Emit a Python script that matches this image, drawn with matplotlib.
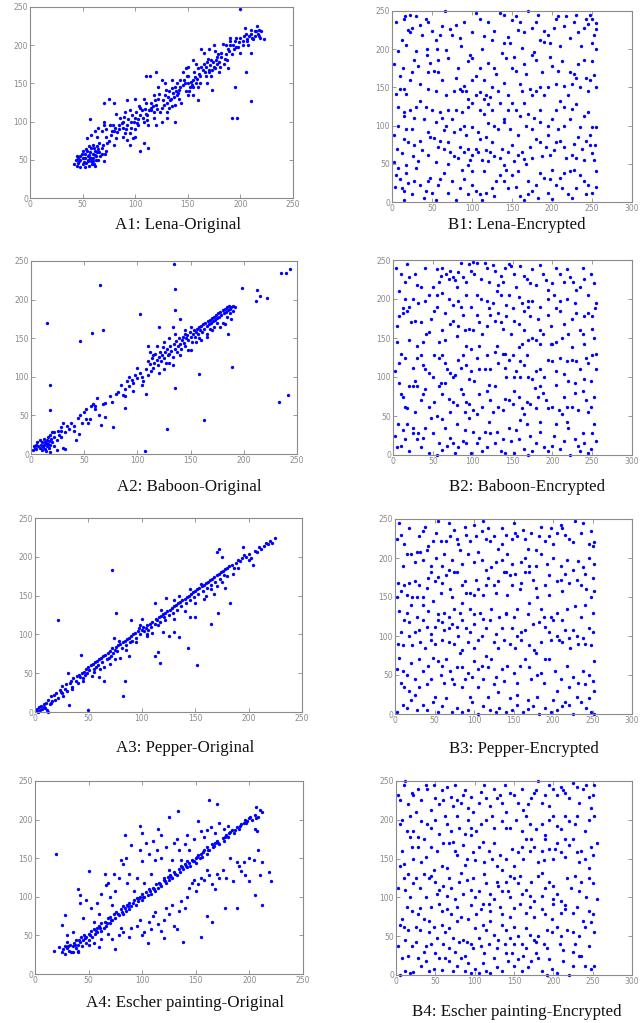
import matplotlib
matplotlib.use("Agg")
import matplotlib.pyplot as plt
import numpy as np

# ---------------- data ----------------
titles = ["A1: Lena-Original", "B1: Lena-Encrypted",
          "A2: Baboon-Original", "B2: Baboon-Encrypted",
          "A3: Pepper-Original", "B3: Pepper-Encrypted",
          "A4: Escher painting-Original", "B4: Escher painting-Encrypted"]

ticks_a = [0, 50, 100, 150, 200, 250]
ticks_b = [0, 50, 100, 150, 200, 250, 300]
yticks = [0, 50, 100, 150, 200, 250]

a1_points = [(42,45),(44,50),(45,42),(47,48),(48,55),(50,44),(50,52),(52,58),(53,46),(54,62),(55,50),(55,55),(56,42),(57,60),(58,48),(58,65),(60,52),(60,58),(61,45),(62,62),(63,55),(64,68),(65,50),(66,60),(45,55),(48,40),(52,40),(62,42),(68,58),(70,48),(68,65),(72,62),(66,72),(60,70),(56,68),(50,62),(54,78),(58,82),(62,88),(65,92),(70,95),(72,80),(75,75),(78,88),(80,70),(82,78),(85,95),(88,100),(90,85),(92,76),(95,70),(98,78),(100,90),(96,100),(100,105),(102,98),(105,108),(108,100),(110,110),(112,95),(106,115),(104,120),(110,125),(115,118),(118,112),(120,122),(122,130),(118,105),(125,118),(126,128),(128,135),(130,125),(132,140),(134,130),(136,138),(138,145),(140,135),(140,150),(142,142),(145,148),(146,155),(148,140),(150,150),(150,160),(152,145),(155,155),(156,165),(158,150),(160,170),(162,160),(165,175),(166,165),(168,178),(170,168),(172,180),(175,172),(178,185),(180,178),(182,190),(185,182),(188,195),(190,200),(192,188),(195,205),(198,198),(200,210),(202,200),(205,215),(206,205),(208,212),(210,220),(212,208),(215,218),(216,225),(218,212),(220,218),(222,208),(214,212),(204,222),(196,210),(190,206),(186,200),(178,175),(172,160),(168,150),(160,145),(158,175),(155,135),(148,170),(142,130),(135,120),(130,112),(128,150),(122,145),(118,135),(114,160),(110,160),(108,130),(100,130),(95,115),(90,112),(88,80),(86,105),(82,110),(80,88),(76,95),(72,90),(70,100),(68,88),(64,80),(92,128),(108,72),(105,62),(112,65),(100,80),(95,85),(120,95),(125,100),(132,118),(138,122),(144,125),(150,135),(155,145),(162,150),(170,165),(176,170),(184,175),(194,195),(200,190),(210,190),(138,100),(130,105),(150,172),(155,180),(165,190),(175,200),(183,202),(190,210),(145,165),(135,155),(125,155),(120,165),(163,195),(170,195),(176,192),(173,142),(160,128),(180,165),(188,170),(200,247),(210,127),(192,105),(197,105),(195,145),(205,165),(75,130),(70,125),(57,103),(80,125),(115,115),(117,120),(124,112),(127,122),(133,128),(137,132),(141,138),(143,145),(147,150),(153,152),(157,158),(161,162),(164,168),(167,172),(171,174),(174,178),(177,180),(182,185),(186,188),(196,198),(202,205),(206,208),(210,215),(214,218),(218,220),(85,90),(88,92),(92,95),(96,92),(99,100),(103,103),(107,105),(111,108),(113,115),(58,52),(60,48),(62,56),(64,60),(55,48),(52,52),(48,50),(46,46),(56,56),
(46,52),(49,58),(51,47),(53,64),(57,52),(59,44),(61,66),(63,50),(65,64),(67,55),(69,70),(71,58),(73,72),(77,82),(79,96),(81,92),(83,86),(87,98),(89,106),(91,90),(93,104),(97,108),(101,112),(103,96),(105,118),(109,116),(111,102),(115,124),(119,128),(121,116),(123,136),(129,142),(131,132),(135,144),(139,140),(143,155),(149,160),(151,140),(154,148),(159,156),(163,172),(167,160),(169,182),(173,168),(179,188),(181,172),(187,180),(189,192),(193,200),(199,204),(203,212),(207,200),(211,210),(217,215),(219,210)]

b1_points = [(5,236),(15,240),(16,243),(25,228),(22,222),(30,243),(35,232),(42,240),(50,224),(55,212),(60,218),(66,250),(75,218),(80,232),(90,236),(100,222),(105,248),(110,240),(115,217),(125,212),(128,224),(135,248),(140,245),(145,216),(148,208),(150,238),(155,243),(160,235),(165,222),(170,250),(175,228),(180,236),(185,212),(190,224),(195,218),(198,208),(205,240),(208,244),(215,230),(218,244),(222,215),(230,245),(232,222),(240,228),(243,240),(245,233),(248,245),(252,218),(255,234),(255,226),(12,212),(18,205),(30,198),(44,200),(56,200),(67,199),(86,204),(97,192),(112,200),(140,208),(163,202),(178,196),(190,210),(210,204),(236,204),(250,208),(255,200),(20,225),(38,218),(72,226),
(8,198),(28,186),(32,178),(44,192),(48,182),(57,186),(70,188),(80,162),(95,185),(100,188),(110,175),(120,182),(127,175),(130,168),(142,188),(150,175),(155,172),(165,180),(168,168),(175,192),(180,186),(188,170),(200,178),(207,171),(222,170),(228,168),(240,186),(243,162),(248,160),(252,166),(25,170),(14,175),(52,172),(58,170),(90,152),(92,145),(100,160),(105,165),(115,160),(125,150),(140,156),(160,155),(185,150),(205,155),(215,152),(230,162),(255,150),(10,148),(15,148),(18,142),(45,148),(55,145),(78,145),(85,148),(88,145),(110,144),(118,140),(122,138),(145,140),(172,148),(180,145),(195,150),(225,155),(235,150),
(5,142),(15,118),(15,112),(22,120),(30,125),(35,132),(40,108),(50,120),(60,118),(62,110),(70,120),(75,108),(80,120),(88,118),(90,100),(95,125),(100,130),(110,120),(115,115),(120,128),(125,120),(128,100),(135,130),(140,108),(145,120),(150,130),(155,120),(160,112),(165,130),(170,115),(178,110),(185,120),(195,100),(200,108),(205,120),(210,132),(215,125),(225,122),(230,128),(240,112),(245,118),(250,98),(255,98),(8,100),(25,95),(45,92),(65,94),(85,96),(100,98),(120,103),(140,105),(175,96),(215,100),(235,98),
(2,88),(12,64),(20,78),(28,75),(35,80),(48,85),(52,84),(60,80),(65,70),(72,65),(78,60),(85,72),(90,66),(95,70),(100,62),(105,70),(108,65),(112,55),(118,68),(122,66),(128,60),(135,58),(145,66),(152,54),(158,62),(162,65),(168,50),(175,58),(180,82),(185,78),(192,72),(198,62),(205,78),(210,80),(218,58),(225,62),(230,58),(238,70),(242,80),(248,74),(250,64),(254,74),(3,52),(8,45),(18,48),(32,54),(55,52),(70,50),(95,48),(120,54),(140,48),(165,56),(200,42),(222,40),(240,55),
(5,35),(10,30),(12,18),(15,15),(15,3),(20,25),(25,10),(28,28),(35,22),(40,5),(45,28),(48,32),(50,12),(55,2),(60,30),(65,38),(75,28),(80,2),(85,18),(90,30),(95,10),(100,40),(105,15),(110,10),(112,2),(118,12),(125,18),(130,28),(135,35),(140,28),(145,18),(150,35),(155,20),(160,8),(165,2),(170,28),(175,15),(180,22),(185,38),(190,32),(195,12),(200,4),(205,22),(210,32),(215,38),(220,10),(225,5),(230,18),(235,35),(240,28),(245,22),(250,12),(255,20),(255,40),
(3,180),(10,165),(22,160),(35,155),(45,170),(62,160),(68,140),(82,175),(95,135),(105,140),(115,135),(132,145),(138,195),(152,190),(162,145),(175,140),(190,140),(198,190),(212,185),(220,140),(232,180),(245,145),(250,185),(7,125),(18,95),(28,110),(42,125),(55,105),(68,100),(78,92),(92,88),(108,92),(118,85),(132,95),(148,95),(158,88),(168,100),(185,105),(195,88),(208,95),(222,108),(232,85),(248,88),(6,70),(15,82),(26,60),(38,68),(45,62),(58,72),(70,78),(82,58),(98,55),(110,82),(125,78),(138,70),(150,75),(172,72),(188,60),(202,68),(215,72),(228,76),(252,55),(4,20),(18,38),(30,45),(42,15),(58,22),(70,12),(88,42),(100,22),(115,40),(128,8),(142,42),(158,40),(170,10),(182,5),(198,30),(212,18),(228,42),(242,10),(22,245),(45,235),(62,230),(85,215),(120,235),(158,225),(182,245),(202,228),(228,235),(250,240)]

a2_points = [(2,5),(3,10),(4,8),(5,12),(5,6),(6,15),(7,10),(8,8),(8,18),(9,12),(10,5),(10,15),(11,9),(12,20),(12,12),(13,7),(13,16),(14,14),(15,10),(15,18),(16,22),(16,13),(17,8),(17,17),(18,25),(18,12),(19,20),(20,15),(20,28),(22,10),(22,22),(24,18),(25,30),(26,25),(28,35),(28,22),(30,40),(30,8),(32,6),(24,5),(18,2),(14,4),(34,36),(36,32),(38,40),(40,30),(42,18),(44,46),(45,26),(46,50),(48,40),(50,55),(52,58),(55,45),(56,62),(58,65),(60,58),(62,72),(64,50),(66,38),(68,65),(70,66),(74,75),(76,68),(77,35),(80,78),(82,80),(85,90),(86,76),(88,84),(88,60),(90,95),(92,100),(95,96),(96,92),(98,102),(100,98),(102,105),(104,100),(105,95),(108,110),(108,78),(110,102),(110,120),(112,116),(113,108),(114,125),(115,112),(116,118),(117,130),(118,122),(119,115),(120,126),(121,132),(122,120),(123,128),(124,138),(125,124),(126,132),(127,118),(128,136),(129,128),(130,130),(131,140),(132,134),(133,126),(134,142),(135,136),(136,146),(137,132),(138,140),(139,150),(140,142),(141,136),(142,148),(143,152),(144,144),(145,140),(146,150),(147,154),(148,148),(149,158),(150,152),(151,145),(152,156),(153,160),(154,152),(155,158),(156,162),(157,155),(158,164),(159,160),(160,166),(161,158),(162,168),(163,162),(164,170),(165,166),(166,172),(167,168),(168,174),(169,170),(170,176),(171,172),(172,178),(173,174),(174,180),(175,176),(176,182),(177,178),(178,184),(179,180),(180,186),(181,182),(182,188),(183,184),(184,190),(185,186),(186,192),(187,188),(188,190),(190,192),(192,190),(118,140),(125,145),(130,150),(133,164),(140,175),(145,160),(150,165),(160,148),(165,155),(170,160),(178,165),(182,168),(185,155),(130,118),(120,105),(115,128),(112,132),(140,128),(148,135),(155,145),(165,152),(172,165),(180,170),(188,175),(135,155),(110,140),(120,165),(133,115),(125,110),(145,155),(150,135),(158,150),(168,162),(175,170),(184,178),(187,182),(190,185),(104,90),(96,82),(88,75),(100,112),(92,88),(70,48),(60,62),(52,45),(54,40),(40,36),(32,28),(28,30),(22,28),
(15,170),(18,90),(18,57),(46,147),(57,157),(68,161),(65,219),(102,181),(134,246),(135,214),(135,186),(135,86),(158,103),(163,44),(128,33),(107,4),(189,113),(233,68),(242,76),(235,235),(240,234),(243,240),(198,215),(212,212),(215,205),(211,198),(222,202)]

b2_points = [(10,232),(15,222),(20,228),(28,232),(30,218),(35,215),(50,215),(55,238),(60,230),(62,240),(66,232),(70,226),(72,236),(75,228),(78,225),(82,234),(85,246),(88,228),(92,222),(95,245),(98,236),(100,248),(105,246),(110,226),(115,246),(120,222),(125,244),(128,236),(132,218),(135,230),(140,240),(145,245),(148,242),(155,215),(160,242),(165,230),(168,226),(172,220),(180,218),(185,244),(188,232),(195,212),(200,220),(205,240),(210,232),(215,222),(222,228),(226,222),(235,216),(240,226),(252,220),(8,210),(25,200),(40,198),(45,205),(62,208),(70,200),(82,198),(92,205),(105,205),(110,200),(118,198),(130,210),(135,205),(145,205),(158,202),(170,198),(175,198),(195,200),(202,205),(210,198),(218,200),(230,212),(20,190),(13,188),(255,195),
(8,178),(12,182),(18,185),(28,172),(35,170),(42,155),(45,158),(52,185),(55,190),(65,182),(72,168),(75,172),(80,152),(85,190),(88,180),(90,160),(95,162),(100,160),(108,170),(112,155),(120,188),(122,180),(128,172),(132,182),(138,162),(142,178),(150,188),(152,172),(158,168),(162,142),(165,185),(170,190),(172,178),(175,150),(180,148),(185,160),(188,155),(195,180),(200,142),(205,145),(210,185),(215,168),(220,155),(225,175),(230,182),(235,160),(240,178),(245,182),(250,178),(254,188),(252,150),(5,145),(20,148),(30,140),(38,145),(58,145),(65,148),(92,140),(98,136),(108,140),(130,140),(140,130),(158,138),(170,148),(185,142),(198,142),(225,138),(240,142),
(10,130),(15,125),(30,125),(35,128),(38,115),(40,110),(45,105),(52,128),(58,125),(62,128),(68,110),(72,105),(78,102),(82,122),(88,128),(92,115),(98,108),(102,95),(108,110),(115,110),(122,110),(128,132),(132,118),(138,130),(145,122),(150,128),(155,108),(160,120),(165,115),(170,100),(175,98),(180,108),(185,110),(195,122),(200,120),(210,125),(215,104),(220,95),(225,122),(230,120),(235,110),(240,98),(245,118),(250,128),(255,130),(3,108),(28,95),(20,88),(60,92),(75,100),(95,98),(120,90),(142,100),(160,100),(185,88),(205,90),(228,92),(248,95),
(8,92),(10,78),(12,75),(18,60),(25,88),(30,88),(35,70),(38,78),(40,85),(45,62),(52,68),(58,88),(65,92),(70,72),(75,68),(80,64),(85,85),(88,78),(92,68),(95,65),(100,58),(105,52),(112,62),(118,82),(122,70),(128,88),(132,62),(140,72),(145,70),(150,65),(158,75),(162,60),(168,68),(172,65),(178,86),(182,75),(188,80),(195,60),(200,62),(208,58),(212,52),(218,62),(225,62),(232,58),(238,82),(242,70),(248,62),(252,74),(6,40),(12,32),(25,35),(32,28),(40,35),(55,50),(62,46),(80,40),(95,48),(100,30),(115,30),(130,30),(145,35),(160,45),(168,40),(185,42),(205,40),(220,35),(238,28),(252,40),
(5,10),(10,12),(15,20),(20,5),(25,28),(30,20),(38,22),(45,2),(55,0),(58,15),(62,6),(68,12),(72,22),(78,2),(82,10),(88,18),(92,15),(98,2),(105,15),(112,5),(118,10),(122,28),(128,15),(135,5),(140,2),(148,18),(152,2),(158,20),(165,8),(170,0),(175,5),(180,15),(190,10),(195,5),(200,12),(210,8),(215,18),(222,0),(228,20),(235,5),(240,15),(245,3),(248,8),(255,18),
(4,240),(18,245),(40,240),(58,222),(80,215),(102,232),(118,240),(138,222),(152,232),(175,238),(192,225),(218,238),(238,240),(248,232),(15,200),(32,195),(55,205),(75,192),(98,190),(125,195),(142,192),(162,195),(185,190),(205,188),(228,195),(245,205),(5,165),(22,170),(48,175),(62,160),(82,165),(105,180),(118,165),(135,170),(148,155),(165,160),(182,175),(198,165),(212,150),(238,155),(250,162),(8,118),(25,112),(50,100),(65,118),(85,112),(105,125),(118,128),(140,112),(152,100),(168,128),(190,100),(205,108),(218,120),(242,125),(255,110),(15,62),(28,55),(48,48),(62,78),(72,55),(90,55),(108,78),(125,55),(138,58),(152,82),(165,52),(180,60),(192,70),(215,75),(228,80),(245,55),(2,25),(18,40),(35,10),(50,28),(65,35),(75,15),(90,32),(108,22),(120,42),(138,20),(155,32),(172,25),(185,30),(202,25),(218,42),(232,12),(250,28)]

a3_points = [(1,1),(2,4),(3,0),(4,6),(5,2),(6,8),(7,4),(8,10),(9,5),(10,12),(11,2),(12,0),(12,15),(14,10),(15,20),(16,14),(18,22),(19,16),(20,24),(22,18),(23,28),(24,26),(25,34),(26,20),(28,30),(29,36),(30,27),(31,50),(32,9),(33,38),(34,40),(35,32),(36,44),(38,40),(39,46),(40,38),(41,48),(42,45),(43,73),(44,50),(45,44),(46,52),(47,48),(48,55),(49,50),(50,58),(51,54),(52,60),(53,47),(54,62),(55,56),(56,64),(57,58),(58,66),(59,60),(60,68),(61,55),(62,70),(63,64),(64,72),(65,40),(66,74),(67,68),(68,76),(69,70),(70,78),(71,72),(72,82),(73,76),(74,96),(75,80),(76,84),(77,78),(78,86),(79,92),(80,88),(81,82),(82,90),(84,92),(85,86),(86,94),(88,96),(89,90),(90,98),(91,92),(92,100),(94,102),(95,96),(96,104),(97,108),(98,100),(100,106),(101,110),(102,104),(104,108),(105,112),(106,106),(108,114),(109,110),(110,116),(112,114),(113,120),(114,118),(116,122),(117,116),(118,124),(120,126),(121,122),(122,128),(124,130),(125,125),(126,132),(128,134),(129,128),(130,136),(132,138),(133,132),(134,140),(136,142),(137,136),(138,144),(140,146),(141,140),(142,148),(144,150),(145,144),(146,152),(148,154),(149,148),(150,156),(152,158),(153,152),(154,160),(156,162),(157,156),(158,164),(160,166),(161,160),(162,168),(164,170),(165,164),(166,172),(168,174),(169,168),(170,176),(172,178),(173,172),(174,180),(176,182),(177,176),(178,184),(180,186),(182,188),(184,190),(186,185),(188,192),(190,196),(192,194),(194,198),(196,202),(198,200),(200,204),(202,198),(204,190),(206,208),(208,206),(210,212),(212,210),(214,214),(216,218),(218,216),(220,220),(222,218),(225,224),(160,150),(165,158),(170,162),(175,168),(178,160),(168,152),(172,210),(175,200),(170,206),(190,186),(185,178),(180,175),(195,212),(200,196),(155,165),(145,158),(135,150),(130,144),(122,118),(115,112),(105,100),(95,90),(85,80),(75,68),(65,58),(55,52),(45,40),(35,30),(25,24),(15,12),(8,6),(60,45),(70,62),(80,70),(88,72),(150,140),(158,145),(140,130),(130,120),
(22,119),(72,183),(76,128),(82,20),(84,40),(50,2),(143,82),(152,60),(117,63),(115,77),(112,72),(165,113),(183,141),(171,127),(150,123),(145,123),(130,103),(120,103),(110,102),(105,98),(135,97),(125,98),(123,147),(112,140),(90,118),(98,112),(118,132),(100,120)]

b3_points = [(2,225),(8,230),(12,218),(20,205),(25,195),(30,228),(32,208),(38,240),(40,210),(42,215),(48,222),(55,248),(58,222),(62,205),(65,222),(70,228),(75,236),(78,225),(80,218),(82,210),(90,230),(95,222),(100,242),(105,208),(110,235),(112,248),(115,225),(120,222),(125,228),(130,212),(135,218),(140,230),(142,205),(148,225),(152,232),(155,228),(162,236),(168,212),(172,232),(178,210),(185,240),(190,222),(195,228),(200,218),(205,232),(210,242),(212,238),(220,225),(225,220),(228,248),(235,232),(245,218),(250,215),(252,220),(15,205),(28,208),(45,190),(60,190),(72,198),(85,192),(100,195),(115,185),(128,195),(140,182),(160,195),(170,182),(185,205),(200,200),(218,198),(232,196),(245,200),(252,192),
(2,150),(8,158),(12,165),(15,152),(18,168),(22,150),(25,170),(30,165),(35,150),(40,162),(45,182),(50,170),(55,176),(60,168),(65,178),(70,160),(75,182),(78,182),(85,165),(90,155),(95,155),(100,152),(105,160),(112,152),(118,175),(125,165),(130,170),(138,182),(142,152),(148,165),(152,180),(158,160),(165,182),(170,190),(175,172),(180,150),(190,165),(195,178),(205,170),(210,172),(215,180),(220,168),(230,172),(238,188),(242,160),(248,150),(252,158),(5,132),(20,140),(35,140),(48,145),(62,130),(75,135),(85,142),(95,135),(108,130),(122,135),(140,130),(155,135),(170,142),(185,135),(198,125),(212,120),(228,138),(240,140),
(8,105),(12,120),(18,118),(25,105),(30,108),(35,120),(40,112),(45,102),(50,112),(55,120),(60,118),(62,108),(68,110),(72,115),(78,112),(85,120),(90,110),(95,105),(100,115),(105,95),(115,110),(120,120),(128,102),(135,110),(140,128),(148,110),(155,100),(160,105),(165,108),(175,115),(182,118),(190,112),(195,105),(200,120),(205,100),(212,92),(220,98),(225,108),(230,100),(238,98),(245,110),(250,105),(10,88),(22,88),(38,85),(50,90),(60,95),(75,90),(85,82),(100,85),(115,75),(130,85),(145,90),(160,95),(176,82),(178,78),(190,70),(208,95),(222,85),(240,90),
(5,72),(10,55),(15,50),(20,65),(25,45),(30,70),(35,55),(42,62),(48,72),(55,68),(60,62),(65,70),(70,55),(78,60),(82,78),(88,45),(92,52),(98,48),(105,58),(110,62),(118,60),(122,70),(128,48),(135,58),(142,62),(150,52),(158,62),(165,70),(170,60),(180,50),(185,52),(195,70),(202,55),(210,45),(218,62),(225,48),(232,40),(238,55),(245,50),(250,42),(252,68),(8,40),(18,30),(25,25),(40,38),(50,22),(62,40),(75,38),(85,35),(95,22),(105,35),(118,22),(130,28),(145,20),(155,25),(168,18),(180,22),(200,18),(215,15),(230,22),(245,20),
(2,3),(10,12),(15,8),(20,18),(28,5),(35,12),(40,5),(48,15),(55,3),(60,10),(65,20),(72,2),(78,8),(85,2),(92,5),(98,15),(105,0),(112,10),(120,5),(128,2),(132,8),(140,2),(148,5),(155,12),(162,3),(168,6),(175,10),(182,0),(190,8),(198,2),(205,5),(212,10),(220,12),(225,0),(235,15),(242,8),(248,3),(252,0),
(5,245),(18,238),(35,235),(52,232),(68,245),(88,240),(102,228),(118,238),(135,238),(150,245),(165,225),(182,228),(198,238),(215,230),(238,245),(248,235),(10,190),(35,198),(52,200),(68,185),(92,205),(110,198),(122,188),(135,198),(148,192),(165,200),(178,190),(192,192),(210,190),(225,185),(240,180),(4,168),(28,150),(42,175),(58,155),(72,150),(88,170),(102,172),(115,165),(128,155),(145,178),(160,168),(178,162),(195,152),(212,158),(235,165),(250,175),(15,130),(28,125),(42,132),(55,128),(68,125),(82,130),(100,128),(112,122),(132,125),(150,125),(168,128),(188,125),(205,130),(218,135),(235,125),(250,130),(4,90),(18,100),(32,92),(45,95),(68,92),(80,100),(92,92),(110,100),(125,92),(138,95),(152,85),(170,88),(185,92),(198,95),(215,108),(232,90),(248,88),(2,58),(12,35),(30,35),(45,45),(58,50),(72,45),(85,60),(100,68),(112,45),(125,38),(138,42),(155,40),(172,45),(188,40),(205,30),(220,35),(240,38),(252,30)]

a4_points = [(18,30),(22,35),(25,28),(26,32),(28,36),(28,26),(30,34),(30,42),(32,30),(33,38),(34,28),(35,36),(36,40),(38,34),(38,44),(40,38),(40,30),(42,42),(43,48),(44,36),(45,44),(46,50),(48,40),(48,48),(50,52),(50,44),(52,56),(53,48),(55,58),(56,52),(58,60),(58,54),(60,62),(62,56),(62,66),(64,60),(65,68),(66,62),(68,72),(70,66),(70,74),(72,70),(74,78),(75,72),(76,80),(78,76),(80,84),(82,78),(82,88),(84,86),(85,82),(86,90),(88,84),(88,92),(90,88),(92,96),(94,90),(95,98),(96,94),(98,100),(100,96),(100,104),(102,100),(104,106),(105,102),(106,110),(108,104),(110,112),(112,108),(113,116),(115,112),(116,118),(118,114),(120,122),(122,118),(124,126),(125,122),(126,128),(128,124),(130,132),(132,128),(134,136),(135,132),(136,140),(138,136),(140,142),(142,138),(142,146),(144,144),(145,140),(146,148),(148,146),(150,150),(150,144),(152,154),(154,150),(155,156),(156,152),(158,160),(160,156),(160,164),(162,160),(165,168),(166,164),(168,170),(170,172),(172,168),(175,176),(176,172),(178,180),(180,178),(182,184),(184,186),(186,182),(188,190),(190,188),(192,194),(195,196),(196,200),(198,198),(200,202),(202,200),(205,206),(206,216),(208,204),(210,212),(212,210),(207,185),(205,188),(200,150),(195,145),(190,140),
(25,64),(28,77),(30,50),(35,55),(40,110),(42,92),(42,102),(45,72),(48,96),(50,134),(52,85),(55,68),(58,92),(60,78),(62,104),(65,130),(66,115),(68,118),(70,100),(72,90),(74,130),(75,108),(78,125),(80,148),(82,143),(84,180),(85,150),(86,118),(88,130),(90,167),(92,108),(95,125),(98,160),(100,146),(102,118),(104,170),(106,155),(108,130),(110,172),(112,148),(114,160),(115,188),(118,180),(118,150),(120,125),(122,165),(125,135),(128,148),(130,170),(132,175),(134,160),(136,148),(140,168),(142,180),(144,160),(148,175),(152,198),(155,185),(158,178),(160,186),(164,190),(168,182),(172,195),(176,188),(180,192),
(35,28),(40,28),(50,38),(55,40),(60,35),(62,45),(68,52),(72,45),(75,32),(78,50),(80,60),(82,55),(88,48),(90,60),(95,62),(98,70),(100,50),(102,55),(106,68),(108,58),(110,75),(112,80),(115,65),(118,56),(120,70),(122,85),(125,78),(128,90),(130,62),(132,58),(134,82),(136,95),(140,86),(142,100),(144,112),(146,118),(148,122),(150,108),(152,116),(155,125),(158,122),(160,135),(162,128),(165,116),(168,110),(170,130),(172,125),(175,135),(178,124),(182,150),(185,120),(188,145),(192,133),(196,128),(200,120),(204,148),(208,160),(210,128),(212,145),(218,132),
(20,155),(220,120),(162,225),(170,220),(133,211),(125,203),(98,192),(100,183),(205,102),(212,89),(188,86),(177,86),(160,75),(165,68),(155,48),(138,42),(120,47),(105,40),
(31,36),(37,38),(41,44),(47,46),(51,50),(57,56),(61,60),(67,66),(71,70),(77,78),(81,80),(87,88),(91,92),(97,98),(101,100),(107,108),(111,110),(117,116),(121,120),(127,126),(131,130),(137,138),(141,140),(147,146),(151,152),(157,158),(161,160),(167,166),(171,170),(177,178),(181,182),(187,186),(191,192),(197,196),(201,204),(206,202)]

b4_points = [(3,232),(5,225),(12,250),(15,220),(20,235),(22,232),(25,210),(32,225),(38,245),(40,240),(45,212),(50,228),(55,220),(60,225),(65,242),(70,230),(72,218),(78,225),(82,222),(85,232),(88,238),(92,215),(98,210),(105,222),(108,236),(115,228),(120,218),(128,228),(132,232),(135,222),(140,210),(145,235),(150,232),(155,222),(162,212),(168,220),(172,228),(175,235),(180,250),(185,222),(190,232),(195,218),(200,240),(205,232),(210,242),(212,238),(220,228),(225,248),(232,222),(238,240),(242,245),(245,230),(248,215),(252,245),(8,200),(18,205),(22,185),(28,178),(40,195),(45,190),(55,182),(62,205),(70,185),(80,190),(88,182),(95,190),(108,195),(115,200),(125,190),(135,198),(145,190),(160,185),(170,195),(178,188),(190,180),(200,205),(205,192),(215,205),(220,198),(230,205),(245,200),(252,205),
(5,140),(10,143),(15,130),(18,178),(22,150),(28,165),(32,145),(38,152),(42,125),(48,135),(52,160),(58,140),(65,138),(68,170),(72,172),(78,155),(85,168),(90,150),(95,180),(100,148),(105,165),(110,172),(118,160),(122,150),(128,140),(135,135),(140,150),(145,128),(150,140),(155,158),(160,165),(165,175),(170,160),(175,165),(180,145),(185,160),(190,175),(195,162),(200,150),(205,170),(210,158),(215,152),(220,168),(225,175),(230,158),(235,160),(240,150),(245,138),(250,155),(255,170),
(3,112),(12,110),(18,100),(25,125),(30,112),(38,100),(45,128),(50,120),(55,110),(60,115),(65,102),(70,112),(75,98),(80,120),(85,105),(90,122),(95,110),(100,100),(105,108),(110,92),(115,118),(120,105),(125,98),(130,115),(135,108),(140,120),(145,100),(150,125),(155,118),(160,105),(165,110),(170,102),(175,95),(180,128),(185,102),(190,112),(195,120),(200,98),(205,105),(210,96),(215,90),(222,112),(228,128),(235,120),(242,100),(250,118),(255,98),(8,72),(20,82),(30,86),(45,88),(58,82),(70,78),(82,75),(95,90),(108,85),(120,82),(135,78),(150,86),(165,80),(175,75),(190,78),(200,92),(215,85),(225,80),(238,70),(250,78),
(5,65),(10,62),(15,58),(25,62),(30,58),(35,72),(42,55),(48,62),(52,48),(58,65),(62,55),(68,60),(72,48),(78,70),(85,45),(90,42),(95,40),(100,60),(105,48),(110,65),(115,58),(120,70),(125,52),(130,45),(135,65),(140,58),(145,48),(150,62),(155,50),(160,40),(165,60),(170,52),(175,45),(180,50),(188,40),(192,58),(198,55),(205,62),(210,50),(218,58),(225,55),(232,50),(240,62),(248,68),(252,55),(12,45),(20,38),(38,38),(50,28),(60,40),(75,30),(88,25),(98,35),(108,38),(118,40),(128,35),(140,28),(150,40),(162,25),(178,28),(192,35),(212,32),(225,30),(235,25),
(2,38),(5,0),(8,22),(12,5),(18,3),(22,4),(28,22),(32,12),(38,18),(42,5),(48,8),(58,6),(62,22),(68,18),(72,5),(78,12),(82,22),(88,5),(95,3),(100,8),(105,2),(110,15),(115,5),(120,2),(128,10),(135,5),(142,18),(150,12),(155,20),(160,5),(168,10),(172,18),(180,22),(185,5),(192,0),(198,8),(205,2),(212,18),(220,0),(225,12),(232,25),(240,12),(248,8),(252,12),
(10,245),(28,240),(48,245),(58,238),(75,245),(95,230),(112,245),(125,240),(138,245),(160,240),(178,238),(195,245),(215,235),(230,242),(250,232),(5,195),(14,185),(32,198),(50,200),(65,195),(78,205),(92,200),(102,185),(122,205),(140,190),(152,200),(165,205),(185,195),(195,200),(210,188),(228,195),(240,185),(8,160),(20,165),(35,175),(45,165),(60,170),(75,160),(88,142),(98,158),(112,145),(125,170),(132,155),(148,162),(162,150),(172,175),(188,148),(202,162),(215,175),(232,145),(248,165),(10,125),(22,118),(35,130),(52,105),(68,125),(82,132),(98,125),(112,130),(128,120),(142,108),(158,128),(172,120),(185,132),(200,115),(218,125),(232,108),(245,125),(14,88),(28,78),(42,70),(55,92),(65,85),(78,88),(92,72),(102,78),(118,92),(132,88),(145,75),(158,92),(170,88),(185,85),(198,72),(210,80),(230,88),(245,82),(15,25),(25,42),(35,30),(45,40),(55,22),(68,35),(80,42),(92,15),(112,28),(125,22),(138,40),(148,28),(165,35),(178,42),(195,20),(208,40),(228,40),(245,38)]

panels_points = [a1_points, b1_points, a2_points, b2_points,
                 a3_points, b3_points, a4_points, b4_points]

# ---------------- layout (pixels: left, top, right, bottom) ----------------
W, H = 642, 1023
boxes = [(30, 7, 293, 198), (392, 11, 632, 202),
         (31, 261, 297, 454), (393, 260, 632, 455),
         (35, 518, 302, 712), (395, 519, 632, 714),
         (35, 781, 303, 974), (396, 781, 632, 975)]
title_pos = [(178, 225), (517, 225), (189, 487), (527, 487),
             (185, 748), (524, 749), (185, 1003), (517, 1012)]

fig = plt.figure(figsize=(W / 100, H / 100), dpi=100)
fig.patch.set_facecolor("white")
gray = "#8a8a8a"

for i, pts in enumerate(panels_points):
    l, t, r, b = boxes[i]
    ax = fig.add_axes([l / W, 1 - b / H, (r - l) / W, (b - t) / H])
    xs = np.array([p[0] for p in pts], dtype=float)
    ys = np.array([p[1] for p in pts], dtype=float)
    ax.plot(xs, ys, linestyle="none", marker="o", markersize=2.4,
            markeredgewidth=0, color="#0000ff", clip_on=False)
    is_b = (i % 2 == 1)
    ax.set_xlim(0, 300 if is_b else 250)
    ax.set_ylim(0, 250)
    ax.set_xticks(ticks_b if is_b else ticks_a)
    ax.set_yticks(yticks)
    ax.tick_params(direction="in", length=3, width=0.6, colors=gray,
                   labelsize=5.5, pad=1.5, top=True, right=True)
    for sp in ax.spines.values():
        sp.set_color(gray)
        sp.set_linewidth(0.8)
    tx, ty = title_pos[i]
    fig.text(tx / W, 1 - ty / H, titles[i], ha="center", va="center",
             fontsize=12.2, family="Liberation Serif", color="#111111")

fig.savefig("out.png", dpi=100, facecolor="white")
